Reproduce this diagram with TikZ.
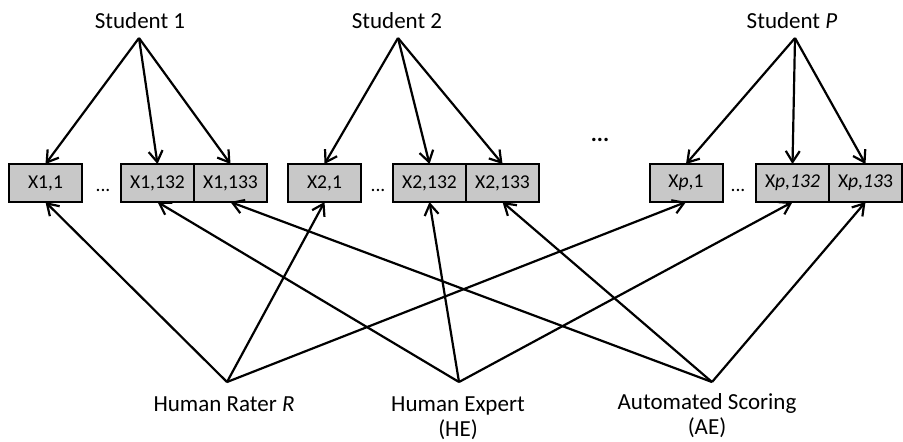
\documentclass[tikz,border=0pt]{standalone}
\usepackage{fontspec}
\setmainfont{Carlito}
\usetikzlibrary{positioning,arrows.meta}
\definecolor{boxgray}{RGB}{200,200,200}
\newcommand{\bw}{36.5pt}
\newcommand{\bh}{19pt}

\begin{document}
\begin{tikzpicture}[x=0.5pt,y=-0.5pt,
    box/.style={draw, rectangle, fill=boxgray, minimum width=\bw, minimum height=\bh, inner sep=0pt, outer sep=0pt, line width=1pt, font=\fontsize{9.8}{11}\selectfont},
    lbl/.style={font=\fontsize{11.5}{12.5}\selectfont, align=center},
    dots/.style={font=\fontsize{9.8}{11}\selectfont, anchor=base},
    arr/.style={-{Straight Barb[length=5.5pt,width=7pt]}, line width=1.1pt}]
    \useasboundingbox (0,0) rectangle (903,441);

    % Students
    \node[lbl, anchor=base] (stu-1) at (140,28) {Student 1};
    \node[lbl, anchor=base] (stu-2) at (397,28) {Student 2};
    \node[lbl, anchor=base] (stu-p) at (792,28) {Student \textit{P}};
    \coordinate (top-1) at (139,38);
    \coordinate (top-2) at (398,38);
    \coordinate (top-p) at (795,38);

    % Items
    \node[box] (x-1-1) at (45.5,183) {X1,1};
    \node[box] (x-1-132) at (157.5,183) {X1,132};
    \node[box, right=0pt of x-1-132] (x-1-133) {X1,133};

    \node[box] (x-2-1) at (324.5,183) {X2,1};
    \node[box] (x-2-132) at (429.5,183) {X2,132};
    \node[box, right=0pt of x-2-132] (x-2-133) {X2,133};

    \node[box] (x-p-1) at (686,183) {X\textit{p},1};
    \node[box] (x-p-132) at (792.5,183) {X\textit{p,132}};
    \node[box, right=0pt of x-p-132] (x-p-133) {X\textit{p,13}3};

    \node[dots] (dots-1) at (103,191) {...};
    \node[dots] (dots-2) at (378,191) {...};
    \node[dots] (dots-p) at (738,191) {...};
    \node[font=\fontsize{11.5}{12.5}\selectfont\bfseries] (dots-mid) at (600,140) {...};

    % Raters
    \coordinate (bot-r) at (227,382);
    \coordinate (bot-he) at (459,382);
    \coordinate (bot-ae) at (712,382);
    \node[lbl, anchor=north] (rater) at (224,390) {Human Rater \textit{R}};
    \node[lbl, anchor=north] (expert) at (458,390) {Human Expert\\(HE)};
    \node[lbl, anchor=north] (auto) at (707,386) {Automated Scoring\\(AE)};

    % Student arrows
    \foreach \s in {1,2,p}{
        \foreach \i in {1,132,133}{
            \draw[arr] (top-\s) -- (x-\s-\i.north);
        }
    }

    % Rater arrows
    \foreach \s in {1,2,p}{
        \draw[arr] (bot-r) -- (x-\s-1.south);
        \draw[arr] (bot-he) -- (x-\s-132.south);
        \draw[arr] (bot-ae) -- (x-\s-133.south);
    }
\end{tikzpicture}
\end{document}
